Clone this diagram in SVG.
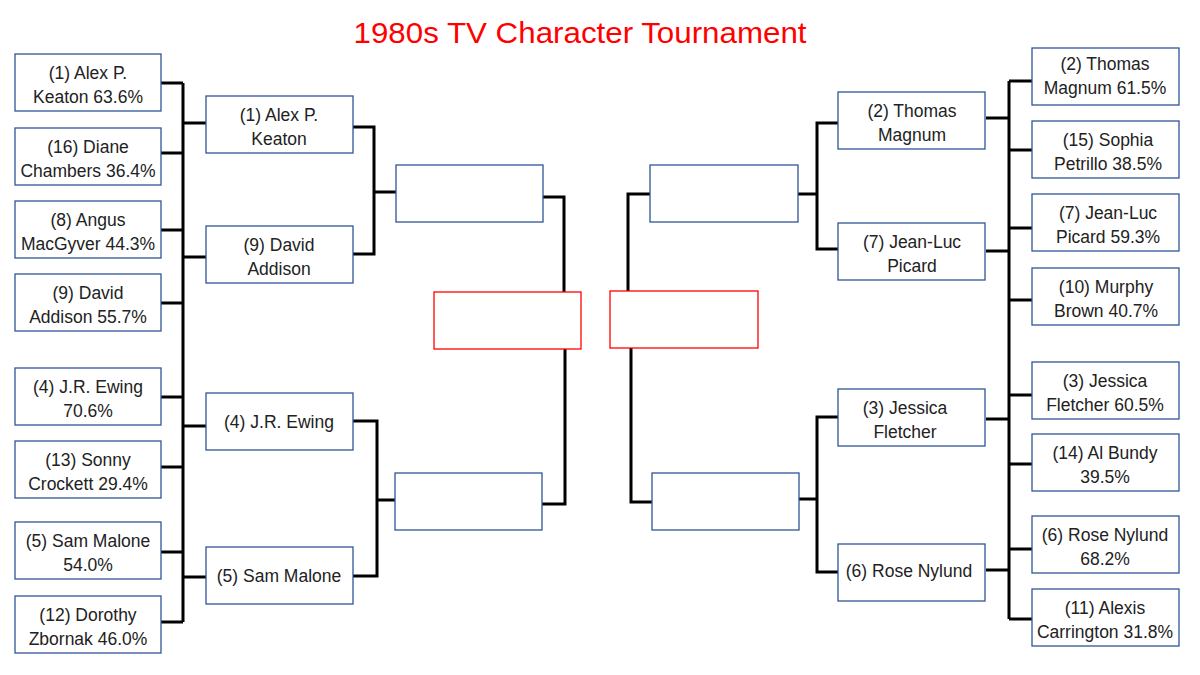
<svg xmlns="http://www.w3.org/2000/svg" width="1200" height="675" viewBox="0 0 1200 675">
<style>
.b{fill:#fff;stroke:#2F5597;stroke-width:1.3}
.f{fill:#fff;stroke:#FF0000;stroke-width:1.3}
.t{font-family:"Liberation Sans",Arial,sans-serif;font-size:17.5px;fill:#222;text-anchor:middle}
.c{fill:none;stroke:#000;stroke-width:3;stroke-linejoin:miter}
</style>
<rect width="1200" height="675" fill="#fff"/>
<text x="580" y="43" font-family="Liberation Sans, Arial, sans-serif" font-size="30" fill="#FF0000" text-anchor="middle" textLength="453" lengthAdjust="spacingAndGlyphs">1980s TV Character Tournament</text>
<g id="connectors">
<path class="c" d="M183,83 V622"/>
<path class="c" d="M161,83 H183 M161,153 H183 M161,230 H183 M161,303 H183 M161,397 H183 M161,467 H183 M161,552 H183 M161,622 H183"/>
<path class="c" d="M183,123 H206 M183,257 H206 M183,426 H206 M183,577 H206"/>
<path class="c" d="M353,127 H374 V254 H353 M374,192 H396"/>
<path class="c" d="M353,421 H377 V576 H353 M377,500 H395"/>
<path class="c" d="M543,197 H564 V292 M565,349 V504 H542"/>
<path class="c" d="M650,194 H628 V291 M631,348 V502 H652"/>
<path class="c" d="M798,194 H817 M838,123 H817 V249 H838"/>
<path class="c" d="M799,499 H817 M838,417 H817 V572 H838"/>
<path class="c" d="M1009,81 V619"/>
<path class="c" d="M1009,81 H1032 M1009,150 H1032 M1009,228 H1032 M1009,300 H1032 M1009,395 H1032 M1009,464 H1032 M1009,549 H1032 M1009,619 H1032"/>
<path class="c" d="M986,118 H1009 M986,251 H1009 M986,419 H1009 M986,570 H1009"/>
</g>
<g id="L1"><rect class="b" x="15" y="54" width="146" height="57"/><text class="t" x="88" y="79">(1) Alex P.</text><text class="t" x="88" y="103">Keaton 63.6%</text></g>
<g id="L2"><rect class="b" x="15" y="128" width="146" height="57"/><text class="t" x="88" y="153">(16) Diane</text><text class="t" x="88" y="177">Chambers 36.4%</text></g>
<g id="L3"><rect class="b" x="15" y="201" width="146" height="57"/><text class="t" x="88" y="226">(8) Angus</text><text class="t" x="88" y="250">MacGyver 44.3%</text></g>
<g id="L4"><rect class="b" x="15" y="274" width="146" height="57"/><text class="t" x="88" y="299">(9) David</text><text class="t" x="88" y="323">Addison 55.7%</text></g>
<g id="L5"><rect class="b" x="15" y="368" width="146" height="57"/><text class="t" x="88" y="393">(4) J.R. Ewing</text><text class="t" x="88" y="417">70.6%</text></g>
<g id="L6"><rect class="b" x="15" y="441" width="146" height="57"/><text class="t" x="88" y="466">(13) Sonny</text><text class="t" x="88" y="490">Crockett 29.4%</text></g>
<g id="L7"><rect class="b" x="15" y="522" width="146" height="57"/><text class="t" x="88" y="547">(5) Sam Malone</text><text class="t" x="88" y="571">54.0%</text></g>
<g id="L8"><rect class="b" x="15" y="596" width="146" height="57"/><text class="t" x="88" y="621">(12) Dorothy</text><text class="t" x="88" y="645">Zbornak 46.0%</text></g>
<g id="LR2a"><rect class="b" x="206" y="96" width="147" height="57"/><text class="t" x="279" y="121">(1) Alex P.</text><text class="t" x="279" y="145">Keaton</text></g>
<g id="LR2b"><rect class="b" x="206" y="226" width="147" height="57"/><text class="t" x="279" y="251">(9) David</text><text class="t" x="279" y="275">Addison</text></g>
<g id="LR2c"><rect class="b" x="206" y="393" width="147" height="57"/><text class="t" x="279" y="428">(4) J.R. Ewing</text></g>
<g id="LR2d"><rect class="b" x="206" y="547" width="147" height="57"/><text class="t" x="279" y="582">(5) Sam Malone</text></g>
<g id="LQ1"><rect class="b" x="396" y="165" width="147" height="57"/></g>
<g id="LQ2"><rect class="b" x="395" y="473" width="147" height="57"/></g>
<g id="FL"><rect class="f" x="434" y="292" width="147" height="57"/></g>
<g id="FR"><rect class="f" x="610" y="291" width="148" height="57"/></g>
<g id="RQ1"><rect class="b" x="650" y="165" width="148" height="57"/></g>
<g id="RQ2"><rect class="b" x="652" y="473" width="147" height="57"/></g>
<g id="RR2a"><rect class="b" x="838" y="92" width="147" height="57"/><text class="t" x="912" y="117">(2) Thomas</text><text class="t" x="912" y="141">Magnum</text></g>
<g id="RR2b"><rect class="b" x="838" y="223" width="147" height="57"/><text class="t" x="912" y="248">(7) Jean-Luc</text><text class="t" x="912" y="272">Picard</text></g>
<g id="RR2c"><rect class="b" x="838" y="389" width="147" height="57"/><text class="t" x="905" y="414">(3) Jessica</text><text class="t" x="905" y="438">Fletcher</text></g>
<g id="RR2d"><rect class="b" x="838" y="544" width="147" height="57"/><text class="t" x="909" y="577">(6) Rose Nylund</text></g>
<g id="R1"><rect class="b" x="1032" y="48" width="147" height="57"/><text class="t" x="1105" y="70">(2) Thomas</text><text class="t" x="1105" y="94">Magnum 61.5%</text></g>
<g id="R2"><rect class="b" x="1032" y="121" width="147" height="57"/><text class="t" x="1108" y="146">(15) Sophia</text><text class="t" x="1108" y="170">Petrillo 38.5%</text></g>
<g id="R3"><rect class="b" x="1032" y="194" width="147" height="57"/><text class="t" x="1108" y="219">(7) Jean-Luc</text><text class="t" x="1108" y="243">Picard 59.3%</text></g>
<g id="R4"><rect class="b" x="1032" y="268" width="147" height="57"/><text class="t" x="1106" y="293">(10) Murphy</text><text class="t" x="1106" y="317">Brown 40.7%</text></g>
<g id="R5"><rect class="b" x="1032" y="362" width="147" height="57"/><text class="t" x="1105" y="387">(3) Jessica</text><text class="t" x="1105" y="411">Fletcher 60.5%</text></g>
<g id="R6"><rect class="b" x="1032" y="434" width="147" height="57"/><text class="t" x="1105" y="459">(14) Al Bundy</text><text class="t" x="1105" y="483">39.5%</text></g>
<g id="R7"><rect class="b" x="1032" y="516" width="147" height="57"/><text class="t" x="1105" y="541">(6) Rose Nylund</text><text class="t" x="1105" y="565">68.2%</text></g>
<g id="R8"><rect class="b" x="1032" y="589" width="147" height="57"/><text class="t" x="1105" y="614">(11) Alexis</text><text class="t" x="1105" y="638">Carrington 31.8%</text></g>
</svg>
